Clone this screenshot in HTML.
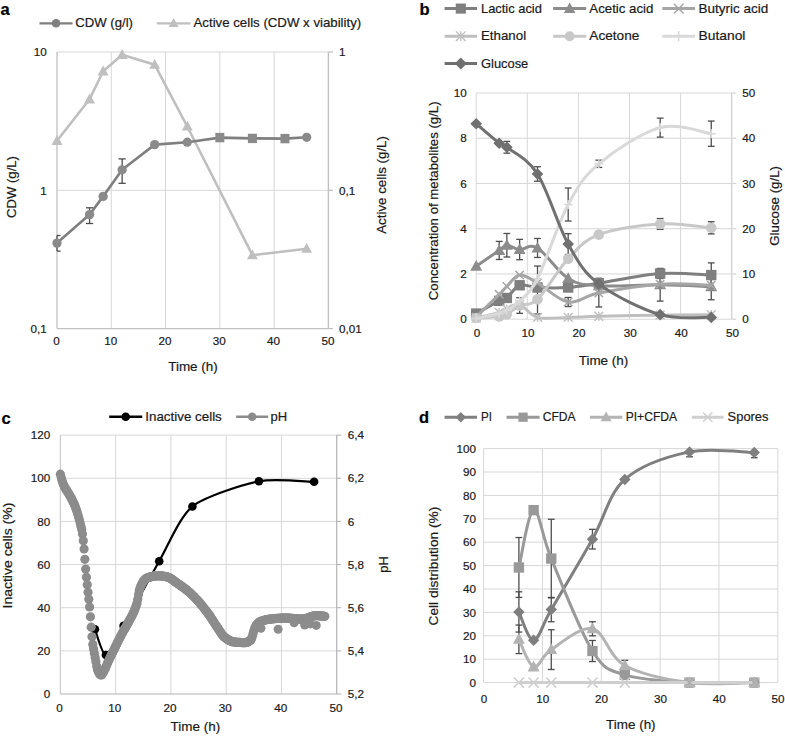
<!DOCTYPE html><html><head><meta charset="utf-8"><style>html,body{margin:0;padding:0;background:#fff;}svg{display:block;}</style></head><body>
<svg width="785" height="737" viewBox="0 0 785 737" font-family='"Liberation Sans", sans-serif'>
<rect width="785" height="737" fill="#fff"/>
<line x1="111.28" y1="52" x2="111.28" y2="328.6" stroke="#d7d7d7" stroke-width="1"/>
<line x1="165.56" y1="52" x2="165.56" y2="328.6" stroke="#d7d7d7" stroke-width="1"/>
<line x1="219.84" y1="52" x2="219.84" y2="328.6" stroke="#d7d7d7" stroke-width="1"/>
<line x1="274.12" y1="52" x2="274.12" y2="328.6" stroke="#d7d7d7" stroke-width="1"/>
<line x1="328.4" y1="52" x2="328.4" y2="328.6" stroke="#d7d7d7" stroke-width="1"/>
<line x1="57" y1="52" x2="328.4" y2="52" stroke="#d7d7d7" stroke-width="1"/>
<line x1="57" y1="190.3" x2="328.4" y2="190.3" stroke="#d7d7d7" stroke-width="1"/>
<line x1="57" y1="52" x2="57" y2="328.6" stroke="#c0c0c0" stroke-width="1.3"/>
<line x1="57" y1="328.6" x2="328.4" y2="328.6" stroke="#c0c0c0" stroke-width="1.3"/>
<line x1="328.4" y1="52" x2="328.4" y2="328.6" stroke="#c0c0c0" stroke-width="1.3"/>
<line x1="328.4" y1="52" x2="332.9" y2="52" stroke="#c0c0c0" stroke-width="1.3"/>
<line x1="328.4" y1="190.3" x2="332.9" y2="190.3" stroke="#c0c0c0" stroke-width="1.3"/>
<line x1="328.4" y1="328.6" x2="332.9" y2="328.6" stroke="#c0c0c0" stroke-width="1.3"/>
<text x="46.8" y="56.2" font-size="11.7" text-anchor="end" fill="#1a1a1a" stroke="#1a1a1a" stroke-width="0.2">10</text>
<text x="46.8" y="194.5" font-size="11.7" text-anchor="end" fill="#1a1a1a" stroke="#1a1a1a" stroke-width="0.2">1</text>
<text x="46.8" y="332.8" font-size="11.7" text-anchor="end" fill="#1a1a1a" stroke="#1a1a1a" stroke-width="0.2">0,1</text>
<text x="339" y="56.2" font-size="11.7" text-anchor="start" fill="#1a1a1a" stroke="#1a1a1a" stroke-width="0.2">1</text>
<text x="339" y="194.5" font-size="11.7" text-anchor="start" fill="#1a1a1a" stroke="#1a1a1a" stroke-width="0.2">0,1</text>
<text x="339" y="332.8" font-size="11.7" text-anchor="start" fill="#1a1a1a" stroke="#1a1a1a" stroke-width="0.2">0,01</text>
<text x="56.5" y="344.6" font-size="11.7" text-anchor="middle" fill="#1a1a1a" stroke="#1a1a1a" stroke-width="0.2">0</text>
<text x="110.78" y="344.6" font-size="11.7" text-anchor="middle" fill="#1a1a1a" stroke="#1a1a1a" stroke-width="0.2">10</text>
<text x="165.06" y="344.6" font-size="11.7" text-anchor="middle" fill="#1a1a1a" stroke="#1a1a1a" stroke-width="0.2">20</text>
<text x="219.34" y="344.6" font-size="11.7" text-anchor="middle" fill="#1a1a1a" stroke="#1a1a1a" stroke-width="0.2">30</text>
<text x="273.62" y="344.6" font-size="11.7" text-anchor="middle" fill="#1a1a1a" stroke="#1a1a1a" stroke-width="0.2">40</text>
<text x="327.9" y="344.6" font-size="11.7" text-anchor="middle" fill="#1a1a1a" stroke="#1a1a1a" stroke-width="0.2">50</text>
<text x="193" y="371" font-size="13" text-anchor="middle" fill="#1a1a1a" stroke="#1a1a1a" stroke-width="0.2" textLength="49.6" lengthAdjust="spacingAndGlyphs">Time (h)</text>
<text x="16.2" y="187" font-size="13" text-anchor="middle" fill="#1a1a1a" stroke="#1a1a1a" stroke-width="0.2" textLength="61.9" lengthAdjust="spacingAndGlyphs" transform="rotate(-90 16.2 187)">CDW (g/L)</text>
<text x="385.6" y="184.9" font-size="13" text-anchor="middle" fill="#1a1a1a" stroke="#1a1a1a" stroke-width="0.2" textLength="97.8" lengthAdjust="spacingAndGlyphs" transform="rotate(-90 385.6 184.9)">Active cells (g/L)</text>
<text x="0.5" y="15.2" font-size="16.5" text-anchor="start" font-weight="bold" fill="#000" stroke="#000" stroke-width="0.2">a</text>
<path d="M57,140.8 L89.57,99.3 L103.14,71.3 L122.14,54.8 L154.7,64.7 L187.27,126.5 L252.41,255.2 L306.69,248.7" fill="none" stroke="#bfbfbf" stroke-width="2.6" stroke-linejoin="round" stroke-linecap="round"/>
<path d="M57,135.03 L62.5,144.93 L51.5,144.93 Z" fill="#bfbfbf"/>
<path d="M89.57,93.52 L95.07,103.42 L84.07,103.42 Z" fill="#bfbfbf"/>
<path d="M103.14,65.52 L108.64,75.42 L97.64,75.42 Z" fill="#bfbfbf"/>
<path d="M122.14,49.02 L127.64,58.92 L116.64,58.92 Z" fill="#bfbfbf"/>
<path d="M154.7,58.93 L160.2,68.83 L149.2,68.83 Z" fill="#bfbfbf"/>
<path d="M187.27,120.72 L192.77,130.62 L181.77,130.62 Z" fill="#bfbfbf"/>
<path d="M252.41,249.42 L257.91,259.32 L246.91,259.32 Z" fill="#bfbfbf"/>
<path d="M306.69,242.92 L312.19,252.82 L301.19,252.82 Z" fill="#bfbfbf"/>
<line x1="57" y1="235.5" x2="57" y2="251.1" stroke="#4d4d4d" stroke-width="1.3"/>
<line x1="57" y1="235.5" x2="60.6" y2="235.5" stroke="#4d4d4d" stroke-width="1.3"/>
<line x1="57" y1="251.1" x2="60.6" y2="251.1" stroke="#4d4d4d" stroke-width="1.3"/>
<line x1="89.57" y1="207.8" x2="89.57" y2="223.5" stroke="#4d4d4d" stroke-width="1.3"/>
<line x1="85.97" y1="207.8" x2="93.17" y2="207.8" stroke="#4d4d4d" stroke-width="1.3"/>
<line x1="85.97" y1="223.5" x2="93.17" y2="223.5" stroke="#4d4d4d" stroke-width="1.3"/>
<line x1="122.14" y1="158.9" x2="122.14" y2="183.3" stroke="#4d4d4d" stroke-width="1.3"/>
<line x1="118.54" y1="158.9" x2="125.74" y2="158.9" stroke="#4d4d4d" stroke-width="1.3"/>
<line x1="118.54" y1="183.3" x2="125.74" y2="183.3" stroke="#4d4d4d" stroke-width="1.3"/>
<path d="M57,243.1 L89.57,214.6 L103.14,196.4 L122.14,169.8 L154.7,144.6 L187.27,142.2 L219.84,137.6 L252.41,138.4 L284.98,138.6 L306.69,137.3" fill="none" stroke="#7f7f7f" stroke-width="2.6" stroke-linejoin="round" stroke-linecap="round"/>
<circle cx="57" cy="243.1" r="4.64" fill="#8a8a8a"/>
<circle cx="89.57" cy="214.6" r="4.64" fill="#8a8a8a"/>
<circle cx="103.14" cy="196.4" r="4.64" fill="#8a8a8a"/>
<circle cx="122.14" cy="169.8" r="4.64" fill="#8a8a8a"/>
<circle cx="154.7" cy="144.6" r="4.64" fill="#8a8a8a"/>
<circle cx="187.27" cy="142.2" r="4.64" fill="#8a8a8a"/>
<rect x="215.34" y="132.9" width="9" height="9.4" fill="#8a8a8a"/>
<rect x="247.91" y="133.7" width="9" height="9.4" fill="#8a8a8a"/>
<rect x="280.48" y="133.9" width="9" height="9.4" fill="#8a8a8a"/>
<circle cx="306.69" cy="137.3" r="4.64" fill="#8a8a8a"/>
<line x1="39.5" y1="23.3" x2="72.6" y2="23.3" stroke="#7f7f7f" stroke-width="2.25"/>
<circle cx="56.05" cy="23.3" r="4.3" fill="#7f7f7f"/>
<text x="75.2" y="27.4" font-size="13" text-anchor="start" fill="#1a1a1a" stroke="#1a1a1a" stroke-width="0.2" textLength="57.8" lengthAdjust="spacingAndGlyphs">CDW (g/l)</text>
<line x1="156.8" y1="23.3" x2="190.5" y2="23.3" stroke="#bfbfbf" stroke-width="2.25"/>
<path d="M173.65,18.05 L178.65,27.05 L168.65,27.05 Z" fill="#bfbfbf"/>
<text x="193.5" y="27.4" font-size="13" text-anchor="start" fill="#1a1a1a" stroke="#1a1a1a" stroke-width="0.2" textLength="167.7" lengthAdjust="spacingAndGlyphs">Active cells (CDW x viability)</text>
<line x1="527.3" y1="93" x2="527.3" y2="319.2" stroke="#d7d7d7" stroke-width="1"/>
<line x1="578.4" y1="93" x2="578.4" y2="319.2" stroke="#d7d7d7" stroke-width="1"/>
<line x1="629.5" y1="93" x2="629.5" y2="319.2" stroke="#d7d7d7" stroke-width="1"/>
<line x1="680.6" y1="93" x2="680.6" y2="319.2" stroke="#d7d7d7" stroke-width="1"/>
<line x1="731.7" y1="93" x2="731.7" y2="319.2" stroke="#d7d7d7" stroke-width="1"/>
<line x1="476.2" y1="319.2" x2="731.7" y2="319.2" stroke="#d7d7d7" stroke-width="1"/>
<line x1="476.2" y1="273.96" x2="731.7" y2="273.96" stroke="#d7d7d7" stroke-width="1"/>
<line x1="476.2" y1="228.72" x2="731.7" y2="228.72" stroke="#d7d7d7" stroke-width="1"/>
<line x1="476.2" y1="183.48" x2="731.7" y2="183.48" stroke="#d7d7d7" stroke-width="1"/>
<line x1="476.2" y1="138.24" x2="731.7" y2="138.24" stroke="#d7d7d7" stroke-width="1"/>
<line x1="476.2" y1="93" x2="731.7" y2="93" stroke="#d7d7d7" stroke-width="1"/>
<line x1="476.2" y1="93" x2="476.2" y2="319.2" stroke="#d7d7d7" stroke-width="1"/>
<line x1="731.7" y1="93" x2="731.7" y2="319.2" stroke="#d4d4d4" stroke-width="1.2"/>
<line x1="731.7" y1="319.2" x2="736.2" y2="319.2" stroke="#d4d4d4" stroke-width="1.2"/>
<line x1="731.7" y1="273.96" x2="736.2" y2="273.96" stroke="#d4d4d4" stroke-width="1.2"/>
<line x1="731.7" y1="228.72" x2="736.2" y2="228.72" stroke="#d4d4d4" stroke-width="1.2"/>
<line x1="731.7" y1="183.48" x2="736.2" y2="183.48" stroke="#d4d4d4" stroke-width="1.2"/>
<line x1="731.7" y1="138.24" x2="736.2" y2="138.24" stroke="#d4d4d4" stroke-width="1.2"/>
<line x1="731.7" y1="93" x2="736.2" y2="93" stroke="#d4d4d4" stroke-width="1.2"/>
<text x="466.8" y="323.4" font-size="11.7" text-anchor="end" fill="#1a1a1a" stroke="#1a1a1a" stroke-width="0.2">0</text>
<text x="742.3" y="323.4" font-size="11.7" text-anchor="start" fill="#1a1a1a" stroke="#1a1a1a" stroke-width="0.2">0</text>
<text x="476.9" y="337" font-size="11.7" text-anchor="middle" fill="#1a1a1a" stroke="#1a1a1a" stroke-width="0.2">0</text>
<text x="466.8" y="278.16" font-size="11.7" text-anchor="end" fill="#1a1a1a" stroke="#1a1a1a" stroke-width="0.2">2</text>
<text x="742.3" y="278.16" font-size="11.7" text-anchor="start" fill="#1a1a1a" stroke="#1a1a1a" stroke-width="0.2">10</text>
<text x="528" y="337" font-size="11.7" text-anchor="middle" fill="#1a1a1a" stroke="#1a1a1a" stroke-width="0.2">10</text>
<text x="466.8" y="232.92" font-size="11.7" text-anchor="end" fill="#1a1a1a" stroke="#1a1a1a" stroke-width="0.2">4</text>
<text x="742.3" y="232.92" font-size="11.7" text-anchor="start" fill="#1a1a1a" stroke="#1a1a1a" stroke-width="0.2">20</text>
<text x="579.1" y="337" font-size="11.7" text-anchor="middle" fill="#1a1a1a" stroke="#1a1a1a" stroke-width="0.2">20</text>
<text x="466.8" y="187.68" font-size="11.7" text-anchor="end" fill="#1a1a1a" stroke="#1a1a1a" stroke-width="0.2">6</text>
<text x="742.3" y="187.68" font-size="11.7" text-anchor="start" fill="#1a1a1a" stroke="#1a1a1a" stroke-width="0.2">30</text>
<text x="630.2" y="337" font-size="11.7" text-anchor="middle" fill="#1a1a1a" stroke="#1a1a1a" stroke-width="0.2">30</text>
<text x="466.8" y="142.44" font-size="11.7" text-anchor="end" fill="#1a1a1a" stroke="#1a1a1a" stroke-width="0.2">8</text>
<text x="742.3" y="142.44" font-size="11.7" text-anchor="start" fill="#1a1a1a" stroke="#1a1a1a" stroke-width="0.2">40</text>
<text x="681.3" y="337" font-size="11.7" text-anchor="middle" fill="#1a1a1a" stroke="#1a1a1a" stroke-width="0.2">40</text>
<text x="466.8" y="97.2" font-size="11.7" text-anchor="end" fill="#1a1a1a" stroke="#1a1a1a" stroke-width="0.2">10</text>
<text x="742.3" y="97.2" font-size="11.7" text-anchor="start" fill="#1a1a1a" stroke="#1a1a1a" stroke-width="0.2">50</text>
<text x="732.4" y="337" font-size="11.7" text-anchor="middle" fill="#1a1a1a" stroke="#1a1a1a" stroke-width="0.2">50</text>
<text x="603.5" y="364.6" font-size="13" text-anchor="middle" fill="#1a1a1a" stroke="#1a1a1a" stroke-width="0.2" textLength="49.6" lengthAdjust="spacingAndGlyphs">Time (h)</text>
<text x="438.2" y="200.8" font-size="13" text-anchor="middle" fill="#1a1a1a" stroke="#1a1a1a" stroke-width="0.2" textLength="198.8" lengthAdjust="spacingAndGlyphs" transform="rotate(-90 438.2 200.8)">Concentration of metabolites (g/L)</text>
<text x="779" y="205.9" font-size="13" text-anchor="middle" fill="#1a1a1a" stroke="#1a1a1a" stroke-width="0.2" textLength="79.8" lengthAdjust="spacingAndGlyphs" transform="rotate(-90 779 205.9)">Glucose (g/L)</text>
<text x="419.5" y="15.3" font-size="16.5" text-anchor="start" font-weight="bold" fill="#000" stroke="#000" stroke-width="0.2">b</text>
<line x1="519.63" y1="281.88" x2="519.63" y2="288.66" stroke="#4d4d4d" stroke-width="1.3"/>
<line x1="516.24" y1="281.88" x2="523.03" y2="281.88" stroke="#4d4d4d" stroke-width="1.3"/>
<line x1="516.24" y1="288.66" x2="523.03" y2="288.66" stroke="#4d4d4d" stroke-width="1.3"/>
<line x1="598.84" y1="278.26" x2="598.84" y2="288.21" stroke="#4d4d4d" stroke-width="1.3"/>
<line x1="595.44" y1="278.26" x2="602.24" y2="278.26" stroke="#4d4d4d" stroke-width="1.3"/>
<line x1="595.44" y1="288.21" x2="602.24" y2="288.21" stroke="#4d4d4d" stroke-width="1.3"/>
<line x1="660.16" y1="268.53" x2="660.16" y2="278.48" stroke="#4d4d4d" stroke-width="1.3"/>
<line x1="656.76" y1="268.53" x2="663.56" y2="268.53" stroke="#4d4d4d" stroke-width="1.3"/>
<line x1="656.76" y1="278.48" x2="663.56" y2="278.48" stroke="#4d4d4d" stroke-width="1.3"/>
<line x1="711.26" y1="262.88" x2="711.26" y2="287.31" stroke="#4d4d4d" stroke-width="1.3"/>
<line x1="707.86" y1="262.88" x2="714.66" y2="262.88" stroke="#4d4d4d" stroke-width="1.3"/>
<line x1="707.86" y1="287.31" x2="714.66" y2="287.31" stroke="#4d4d4d" stroke-width="1.3"/>
<line x1="499.19" y1="241.39" x2="499.19" y2="259.48" stroke="#4d4d4d" stroke-width="1.3"/>
<line x1="495.8" y1="241.39" x2="502.59" y2="241.39" stroke="#4d4d4d" stroke-width="1.3"/>
<line x1="495.8" y1="259.48" x2="502.59" y2="259.48" stroke="#4d4d4d" stroke-width="1.3"/>
<line x1="506.86" y1="233.47" x2="506.86" y2="257" stroke="#4d4d4d" stroke-width="1.3"/>
<line x1="503.46" y1="233.47" x2="510.26" y2="233.47" stroke="#4d4d4d" stroke-width="1.3"/>
<line x1="503.46" y1="257" x2="510.26" y2="257" stroke="#4d4d4d" stroke-width="1.3"/>
<line x1="519.63" y1="239.35" x2="519.63" y2="259.71" stroke="#4d4d4d" stroke-width="1.3"/>
<line x1="516.24" y1="239.35" x2="523.03" y2="239.35" stroke="#4d4d4d" stroke-width="1.3"/>
<line x1="516.24" y1="259.71" x2="523.03" y2="259.71" stroke="#4d4d4d" stroke-width="1.3"/>
<line x1="537.52" y1="238.45" x2="537.52" y2="257.45" stroke="#4d4d4d" stroke-width="1.3"/>
<line x1="534.12" y1="238.45" x2="540.92" y2="238.45" stroke="#4d4d4d" stroke-width="1.3"/>
<line x1="534.12" y1="257.45" x2="540.92" y2="257.45" stroke="#4d4d4d" stroke-width="1.3"/>
<line x1="660.16" y1="268.53" x2="660.16" y2="301.1" stroke="#4d4d4d" stroke-width="1.3"/>
<line x1="656.76" y1="268.53" x2="663.56" y2="268.53" stroke="#4d4d4d" stroke-width="1.3"/>
<line x1="656.76" y1="301.1" x2="663.56" y2="301.1" stroke="#4d4d4d" stroke-width="1.3"/>
<line x1="711.26" y1="273.51" x2="711.26" y2="299.75" stroke="#4d4d4d" stroke-width="1.3"/>
<line x1="707.86" y1="273.51" x2="714.66" y2="273.51" stroke="#4d4d4d" stroke-width="1.3"/>
<line x1="707.86" y1="299.75" x2="714.66" y2="299.75" stroke="#4d4d4d" stroke-width="1.3"/>
<line x1="568.18" y1="297.48" x2="568.18" y2="306.53" stroke="#4d4d4d" stroke-width="1.3"/>
<line x1="564.78" y1="297.48" x2="571.58" y2="297.48" stroke="#4d4d4d" stroke-width="1.3"/>
<line x1="564.78" y1="306.53" x2="571.58" y2="306.53" stroke="#4d4d4d" stroke-width="1.3"/>
<line x1="598.84" y1="278.94" x2="598.84" y2="306.99" stroke="#4d4d4d" stroke-width="1.3"/>
<line x1="595.44" y1="278.94" x2="602.24" y2="278.94" stroke="#4d4d4d" stroke-width="1.3"/>
<line x1="595.44" y1="306.99" x2="602.24" y2="306.99" stroke="#4d4d4d" stroke-width="1.3"/>
<line x1="598.84" y1="232.34" x2="598.84" y2="236.86" stroke="#4d4d4d" stroke-width="1.3"/>
<line x1="595.44" y1="232.34" x2="602.24" y2="232.34" stroke="#4d4d4d" stroke-width="1.3"/>
<line x1="595.44" y1="236.86" x2="602.24" y2="236.86" stroke="#4d4d4d" stroke-width="1.3"/>
<line x1="660.16" y1="218.54" x2="660.16" y2="229.4" stroke="#4d4d4d" stroke-width="1.3"/>
<line x1="656.76" y1="218.54" x2="663.56" y2="218.54" stroke="#4d4d4d" stroke-width="1.3"/>
<line x1="656.76" y1="229.4" x2="663.56" y2="229.4" stroke="#4d4d4d" stroke-width="1.3"/>
<line x1="711.26" y1="221.71" x2="711.26" y2="233.92" stroke="#4d4d4d" stroke-width="1.3"/>
<line x1="707.86" y1="221.71" x2="714.66" y2="221.71" stroke="#4d4d4d" stroke-width="1.3"/>
<line x1="707.86" y1="233.92" x2="714.66" y2="233.92" stroke="#4d4d4d" stroke-width="1.3"/>
<line x1="568.18" y1="188" x2="568.18" y2="221.03" stroke="#4d4d4d" stroke-width="1.3"/>
<line x1="564.78" y1="188" x2="571.58" y2="188" stroke="#4d4d4d" stroke-width="1.3"/>
<line x1="564.78" y1="221.03" x2="571.58" y2="221.03" stroke="#4d4d4d" stroke-width="1.3"/>
<line x1="598.84" y1="160.18" x2="598.84" y2="167.42" stroke="#4d4d4d" stroke-width="1.3"/>
<line x1="595.44" y1="160.18" x2="602.24" y2="160.18" stroke="#4d4d4d" stroke-width="1.3"/>
<line x1="595.44" y1="167.42" x2="602.24" y2="167.42" stroke="#4d4d4d" stroke-width="1.3"/>
<line x1="660.16" y1="118.11" x2="660.16" y2="137.11" stroke="#4d4d4d" stroke-width="1.3"/>
<line x1="656.76" y1="118.11" x2="663.56" y2="118.11" stroke="#4d4d4d" stroke-width="1.3"/>
<line x1="656.76" y1="137.11" x2="663.56" y2="137.11" stroke="#4d4d4d" stroke-width="1.3"/>
<line x1="711.26" y1="121.05" x2="711.26" y2="146.38" stroke="#4d4d4d" stroke-width="1.3"/>
<line x1="707.86" y1="121.05" x2="714.66" y2="121.05" stroke="#4d4d4d" stroke-width="1.3"/>
<line x1="707.86" y1="146.38" x2="714.66" y2="146.38" stroke="#4d4d4d" stroke-width="1.3"/>
<line x1="506.86" y1="141.41" x2="506.86" y2="153.17" stroke="#4d4d4d" stroke-width="1.3"/>
<line x1="503.46" y1="141.41" x2="510.26" y2="141.41" stroke="#4d4d4d" stroke-width="1.3"/>
<line x1="503.46" y1="153.17" x2="510.26" y2="153.17" stroke="#4d4d4d" stroke-width="1.3"/>
<line x1="537.52" y1="166.74" x2="537.52" y2="181.22" stroke="#4d4d4d" stroke-width="1.3"/>
<line x1="534.12" y1="166.74" x2="540.92" y2="166.74" stroke="#4d4d4d" stroke-width="1.3"/>
<line x1="534.12" y1="181.22" x2="540.92" y2="181.22" stroke="#4d4d4d" stroke-width="1.3"/>
<line x1="568.18" y1="233.7" x2="568.18" y2="254.51" stroke="#4d4d4d" stroke-width="1.3"/>
<line x1="564.78" y1="233.7" x2="571.58" y2="233.7" stroke="#4d4d4d" stroke-width="1.3"/>
<line x1="564.78" y1="254.51" x2="571.58" y2="254.51" stroke="#4d4d4d" stroke-width="1.3"/>
<line x1="537.52" y1="266.04" x2="537.52" y2="314" stroke="#4d4d4d" stroke-width="1.3"/>
<line x1="534.12" y1="266.04" x2="540.92" y2="266.04" stroke="#4d4d4d" stroke-width="1.3"/>
<line x1="534.12" y1="314" x2="540.92" y2="314" stroke="#4d4d4d" stroke-width="1.3"/>
<line x1="519.63" y1="297.71" x2="519.63" y2="313.32" stroke="#4d4d4d" stroke-width="1.3"/>
<line x1="516.24" y1="297.71" x2="523.03" y2="297.71" stroke="#4d4d4d" stroke-width="1.3"/>
<line x1="516.24" y1="313.32" x2="523.03" y2="313.32" stroke="#4d4d4d" stroke-width="1.3"/>
<path d="M476.2,313.55 C480.03,311.43 494.08,303.48 499.19,300.88 C504.31,298.28 503.45,300.54 506.86,297.94 C510.27,295.34 514.52,287 519.63,285.27 C524.75,283.54 529.43,287.15 537.52,287.53 C545.61,287.91 557.96,288.25 568.18,287.53 C578.4,286.82 583.51,285.57 598.84,283.23 C614.17,280.9 641.42,274.86 660.16,273.51 C678.9,272.15 702.74,274.83 711.26,275.09" fill="none" stroke="#7f7f7f" stroke-width="3" stroke-linejoin="round" stroke-linecap="round"/>
<rect x="471.01" y="308.35" width="10.38" height="10.38" fill="#7f7f7f"/>
<rect x="494" y="295.69" width="10.38" height="10.38" fill="#7f7f7f"/>
<rect x="501.67" y="292.75" width="10.38" height="10.38" fill="#7f7f7f"/>
<rect x="514.44" y="280.08" width="10.38" height="10.38" fill="#7f7f7f"/>
<rect x="532.33" y="282.34" width="10.38" height="10.38" fill="#7f7f7f"/>
<rect x="562.99" y="282.34" width="10.38" height="10.38" fill="#7f7f7f"/>
<rect x="593.65" y="278.04" width="10.38" height="10.38" fill="#7f7f7f"/>
<rect x="654.97" y="268.32" width="10.38" height="10.38" fill="#7f7f7f"/>
<rect x="706.07" y="269.9" width="10.38" height="10.38" fill="#7f7f7f"/>
<path d="M476.2,266.27 C480.03,263.63 494.08,253.94 499.19,250.44 C504.31,246.93 503.45,245.38 506.86,245.23 C510.27,245.08 514.52,249.08 519.63,249.53 C524.75,249.98 529.43,243.12 537.52,247.95 C545.61,252.77 557.96,272.19 568.18,278.48 C578.4,284.78 583.51,284.67 598.84,285.72 C614.17,286.78 641.42,284.67 660.16,284.82 C678.9,284.97 702.74,286.33 711.26,286.63" fill="none" stroke="#8c8c8c" stroke-width="3" stroke-linejoin="round" stroke-linecap="round"/>
<path d="M476.2,259.97 L482.2,270.77 L470.2,270.77 Z" fill="#8c8c8c"/>
<path d="M499.19,244.14 L505.19,254.94 L493.19,254.94 Z" fill="#8c8c8c"/>
<path d="M506.86,238.93 L512.86,249.73 L500.86,249.73 Z" fill="#8c8c8c"/>
<path d="M519.63,243.23 L525.63,254.03 L513.63,254.03 Z" fill="#8c8c8c"/>
<path d="M537.52,241.65 L543.52,252.45 L531.52,252.45 Z" fill="#8c8c8c"/>
<path d="M568.18,272.18 L574.18,282.98 L562.18,282.98 Z" fill="#8c8c8c"/>
<path d="M598.84,279.42 L604.84,290.22 L592.84,290.22 Z" fill="#8c8c8c"/>
<path d="M660.16,278.52 L666.16,289.32 L654.16,289.32 Z" fill="#8c8c8c"/>
<path d="M711.26,280.33 L717.26,291.13 L705.26,291.13 Z" fill="#8c8c8c"/>
<path d="M476.2,316.94 C480.03,313.17 494.08,299.41 499.19,294.32 C504.31,289.23 503.45,289.61 506.86,286.4 C510.27,283.2 514.52,275.66 519.63,275.09 C524.75,274.53 529.43,278.52 537.52,283.01 C545.61,287.49 557.96,300.35 568.18,302.01 C578.4,303.67 583.51,295.94 598.84,292.96 C614.17,289.98 641.42,285.42 660.16,284.14 C678.9,282.86 702.74,285.08 711.26,285.27" fill="none" stroke="#a6a6a6" stroke-width="3" stroke-linejoin="round" stroke-linecap="round"/>
<path d="M472,312.74 L480.4,321.14 M472,321.14 L480.4,312.74" stroke="#a6a6a6" stroke-width="1.5"/>
<path d="M495,290.12 L503.39,298.52 M495,298.52 L503.39,290.12" stroke="#a6a6a6" stroke-width="1.5"/>
<path d="M502.66,282.2 L511.06,290.6 M502.66,290.6 L511.06,282.2" stroke="#a6a6a6" stroke-width="1.5"/>
<path d="M515.43,270.89 L523.84,279.29 M515.43,279.29 L523.84,270.89" stroke="#a6a6a6" stroke-width="1.5"/>
<path d="M533.32,278.81 L541.72,287.21 M533.32,287.21 L541.72,278.81" stroke="#a6a6a6" stroke-width="1.5"/>
<path d="M563.98,297.81 L572.38,306.21 M563.98,306.21 L572.38,297.81" stroke="#a6a6a6" stroke-width="1.5"/>
<path d="M594.64,288.76 L603.04,297.16 M594.64,297.16 L603.04,288.76" stroke="#a6a6a6" stroke-width="1.5"/>
<path d="M655.96,279.94 L664.36,288.34 M655.96,288.34 L664.36,279.94" stroke="#a6a6a6" stroke-width="1.5"/>
<path d="M707.06,281.07 L715.46,289.47 M707.06,289.47 L715.46,281.07" stroke="#a6a6a6" stroke-width="1.5"/>
<path d="M476.2,318.07 C480.03,317.13 494.08,313.92 499.19,312.41 C504.31,310.91 503.45,310.34 506.86,309.02 C510.27,307.7 514.52,303.1 519.63,304.5 C524.75,305.89 529.43,315.24 537.52,317.39 C545.61,319.54 557.96,317.58 568.18,317.39 C578.4,317.2 583.51,316.64 598.84,316.26 C614.17,315.88 641.42,315.39 660.16,315.13 C678.9,314.86 702.74,314.75 711.26,314.68" fill="none" stroke="#bfbfbf" stroke-width="3" stroke-linejoin="round" stroke-linecap="round"/>
<path d="M471.79,313.66 L480.61,322.48 M471.79,322.48 L480.61,313.66 M476.2,313.66 L476.2,322.48" stroke="#bfbfbf" stroke-width="1.4"/>
<path d="M494.78,308 L503.61,316.82 M494.78,316.82 L503.61,308 M499.19,308 L499.19,316.82" stroke="#bfbfbf" stroke-width="1.4"/>
<path d="M502.45,304.61 L511.27,313.43 M502.45,313.43 L511.27,304.61 M506.86,304.61 L506.86,313.43" stroke="#bfbfbf" stroke-width="1.4"/>
<path d="M515.23,300.09 L524.04,308.91 M515.23,308.91 L524.04,300.09 M519.63,300.09 L519.63,308.91" stroke="#bfbfbf" stroke-width="1.4"/>
<path d="M533.11,312.98 L541.93,321.8 M533.11,321.8 L541.93,312.98 M537.52,312.98 L537.52,321.8" stroke="#bfbfbf" stroke-width="1.4"/>
<path d="M563.77,312.98 L572.59,321.8 M563.77,321.8 L572.59,312.98 M568.18,312.98 L568.18,321.8" stroke="#bfbfbf" stroke-width="1.4"/>
<path d="M594.43,311.85 L603.25,320.67 M594.43,320.67 L603.25,311.85 M598.84,311.85 L598.84,320.67" stroke="#bfbfbf" stroke-width="1.4"/>
<path d="M655.75,310.72 L664.57,319.54 M655.75,319.54 L664.57,310.72 M660.16,310.72 L660.16,319.54" stroke="#bfbfbf" stroke-width="1.4"/>
<path d="M706.85,310.27 L715.67,319.09 M706.85,319.09 L715.67,310.27 M711.26,310.27 L711.26,319.09" stroke="#bfbfbf" stroke-width="1.4"/>
<path d="M476.2,318.07 C480.03,317.81 494.08,317.13 499.19,316.49 C504.31,315.84 503.45,316.03 506.86,314.22 C510.27,312.41 514.52,308.12 519.63,305.63 C524.75,303.14 529.43,307.1 537.52,299.29 C545.61,291.49 557.96,269.59 568.18,258.8 C578.4,248.02 583.51,240.41 598.84,234.6 C614.17,228.8 641.42,225.1 660.16,223.97 C678.9,222.84 702.74,227.17 711.26,227.82" fill="none" stroke="#c8c8c8" stroke-width="3" stroke-linejoin="round" stroke-linecap="round"/>
<circle cx="476.2" cy="318.07" r="5.29" fill="#c8c8c8"/>
<circle cx="499.19" cy="316.49" r="5.29" fill="#c8c8c8"/>
<circle cx="506.86" cy="314.22" r="5.29" fill="#c8c8c8"/>
<circle cx="519.63" cy="305.63" r="5.29" fill="#c8c8c8"/>
<circle cx="537.52" cy="299.29" r="5.29" fill="#c8c8c8"/>
<circle cx="568.18" cy="258.8" r="5.29" fill="#c8c8c8"/>
<circle cx="598.84" cy="234.6" r="5.29" fill="#c8c8c8"/>
<circle cx="660.16" cy="223.97" r="5.29" fill="#c8c8c8"/>
<circle cx="711.26" cy="227.82" r="5.29" fill="#c8c8c8"/>
<path d="M476.2,318.52 C480.03,317.69 494.08,314.94 499.19,313.55 C504.31,312.15 503.45,312.23 506.86,310.15 C510.27,308.08 514.52,306.38 519.63,301.1 C524.75,295.83 529.43,294.58 537.52,278.48 C545.61,262.39 557.96,223.63 568.18,204.52 C578.4,185.4 583.51,176.62 598.84,163.8 C614.17,150.98 641.42,132.62 660.16,127.61 C678.9,122.59 702.74,132.7 711.26,133.72" fill="none" stroke="#d9d9d9" stroke-width="3" stroke-linejoin="round" stroke-linecap="round"/>
<path d="M471.7,318.52 L480.7,318.52 M476.2,314.02 L476.2,323.02" stroke="#d9d9d9" stroke-width="1.5"/>
<path d="M494.69,313.55 L503.69,313.55 M499.19,309.05 L499.19,318.05" stroke="#d9d9d9" stroke-width="1.5"/>
<path d="M502.36,310.15 L511.36,310.15 M506.86,305.65 L506.86,314.65" stroke="#d9d9d9" stroke-width="1.5"/>
<path d="M515.13,301.1 L524.13,301.1 M519.63,296.6 L519.63,305.6" stroke="#d9d9d9" stroke-width="1.5"/>
<path d="M533.02,278.48 L542.02,278.48 M537.52,273.98 L537.52,282.98" stroke="#d9d9d9" stroke-width="1.5"/>
<path d="M563.68,204.52 L572.68,204.52 M568.18,200.02 L568.18,209.02" stroke="#d9d9d9" stroke-width="1.5"/>
<path d="M594.34,163.8 L603.34,163.8 M598.84,159.3 L598.84,168.3" stroke="#d9d9d9" stroke-width="1.5"/>
<path d="M655.66,127.61 L664.66,127.61 M660.16,123.11 L660.16,132.11" stroke="#d9d9d9" stroke-width="1.5"/>
<path d="M706.76,133.72 L715.76,133.72 M711.26,129.22 L711.26,138.22" stroke="#d9d9d9" stroke-width="1.5"/>
<path d="M476.2,123.76 C480.03,127.01 494.08,139.3 499.19,143.22 C504.31,147.14 500.47,142.16 506.86,147.29 C513.25,152.42 527.3,157.84 537.52,173.98 C547.74,190.12 557.96,225.78 568.18,244.1 C578.4,262.42 583.51,272.15 598.84,283.91 C614.17,295.68 641.42,309.1 660.16,314.68 C678.9,320.26 702.74,316.94 711.26,317.39" fill="none" stroke="#707070" stroke-width="3" stroke-linejoin="round" stroke-linecap="round"/>
<path d="M476.2,117.94 L482.02,123.76 L476.2,129.59 L470.38,123.76 Z" fill="#707070"/>
<path d="M499.19,137.39 L505.02,143.22 L499.19,149.04 L493.37,143.22 Z" fill="#707070"/>
<path d="M506.86,141.46 L512.68,147.29 L506.86,153.11 L501.04,147.29 Z" fill="#707070"/>
<path d="M537.52,168.16 L543.34,173.98 L537.52,179.8 L531.7,173.98 Z" fill="#707070"/>
<path d="M568.18,238.28 L574,244.1 L568.18,249.93 L562.36,244.1 Z" fill="#707070"/>
<path d="M598.84,278.09 L604.66,283.91 L598.84,289.74 L593.02,283.91 Z" fill="#707070"/>
<path d="M660.16,308.85 L665.98,314.68 L660.16,320.5 L654.34,314.68 Z" fill="#707070"/>
<path d="M711.26,311.57 L717.08,317.39 L711.26,323.21 L705.44,317.39 Z" fill="#707070"/>
<line x1="444.6" y1="8.6" x2="477" y2="8.6" stroke="#7f7f7f" stroke-width="3"/>
<rect x="455.74" y="3.54" width="10.12" height="10.12" fill="#7f7f7f"/>
<text x="481" y="12.7" font-size="13" text-anchor="start" fill="#1a1a1a" stroke="#1a1a1a" stroke-width="0.2" textLength="60.9" lengthAdjust="spacingAndGlyphs">Lactic acid</text>
<line x1="553.1" y1="8.6" x2="586.2" y2="8.6" stroke="#8c8c8c" stroke-width="3"/>
<path d="M569.65,2.56 L575.4,12.91 L563.9,12.91 Z" fill="#8c8c8c"/>
<text x="589.3" y="12.7" font-size="13" text-anchor="start" fill="#1a1a1a" stroke="#1a1a1a" stroke-width="0.2" textLength="64.1" lengthAdjust="spacingAndGlyphs">Acetic acid</text>
<line x1="662.3" y1="8.6" x2="695.1" y2="8.6" stroke="#a6a6a6" stroke-width="3"/>
<path d="M673.87,3.77 L683.53,13.43 M673.87,13.43 L683.53,3.77" stroke="#a6a6a6" stroke-width="1.5"/>
<text x="698.6" y="12.7" font-size="13" text-anchor="start" fill="#1a1a1a" stroke="#1a1a1a" stroke-width="0.2" textLength="69.6" lengthAdjust="spacingAndGlyphs">Butyric acid</text>
<line x1="444.6" y1="36.2" x2="477" y2="36.2" stroke="#bfbfbf" stroke-width="3"/>
<path d="M455.97,31.37 L465.63,41.03 M455.97,41.03 L465.63,31.37 M460.8,31.37 L460.8,41.03" stroke="#bfbfbf" stroke-width="1.4"/>
<text x="481" y="40.3" font-size="13" text-anchor="start" fill="#1a1a1a" stroke="#1a1a1a" stroke-width="0.2" textLength="45.1" lengthAdjust="spacingAndGlyphs">Ethanol</text>
<line x1="553.1" y1="36.2" x2="586.2" y2="36.2" stroke="#c8c8c8" stroke-width="3"/>
<circle cx="569.65" cy="36.2" r="4.94" fill="#c8c8c8"/>
<text x="589.3" y="40.3" font-size="13" text-anchor="start" fill="#1a1a1a" stroke="#1a1a1a" stroke-width="0.2" textLength="50" lengthAdjust="spacingAndGlyphs">Acetone</text>
<line x1="662.3" y1="36.2" x2="695.1" y2="36.2" stroke="#d9d9d9" stroke-width="3"/>
<path d="M673.53,36.2 L683.88,36.2 M678.7,31.03 L678.7,41.38" stroke="#d9d9d9" stroke-width="1.5"/>
<text x="698.6" y="40.3" font-size="13" text-anchor="start" fill="#1a1a1a" stroke="#1a1a1a" stroke-width="0.2" textLength="46.8" lengthAdjust="spacingAndGlyphs">Butanol</text>
<line x1="444.6" y1="63.4" x2="477" y2="63.4" stroke="#707070" stroke-width="3"/>
<path d="M460.8,57.42 L466.78,63.4 L460.8,69.38 L454.82,63.4 Z" fill="#707070"/>
<text x="481" y="67.5" font-size="13" text-anchor="start" fill="#1a1a1a" stroke="#1a1a1a" stroke-width="0.2" textLength="47.3" lengthAdjust="spacingAndGlyphs">Glucose</text>
<line x1="115.66" y1="435.1" x2="115.66" y2="694" stroke="#d7d7d7" stroke-width="1"/>
<line x1="170.92" y1="435.1" x2="170.92" y2="694" stroke="#d7d7d7" stroke-width="1"/>
<line x1="226.18" y1="435.1" x2="226.18" y2="694" stroke="#d7d7d7" stroke-width="1"/>
<line x1="281.44" y1="435.1" x2="281.44" y2="694" stroke="#d7d7d7" stroke-width="1"/>
<line x1="336.7" y1="435.1" x2="336.7" y2="694" stroke="#d7d7d7" stroke-width="1"/>
<line x1="60.4" y1="650.85" x2="336.7" y2="650.85" stroke="#d7d7d7" stroke-width="1"/>
<line x1="60.4" y1="607.7" x2="336.7" y2="607.7" stroke="#d7d7d7" stroke-width="1"/>
<line x1="60.4" y1="564.55" x2="336.7" y2="564.55" stroke="#d7d7d7" stroke-width="1"/>
<line x1="60.4" y1="521.4" x2="336.7" y2="521.4" stroke="#d7d7d7" stroke-width="1"/>
<line x1="60.4" y1="478.25" x2="336.7" y2="478.25" stroke="#d7d7d7" stroke-width="1"/>
<line x1="60.4" y1="435.1" x2="336.7" y2="435.1" stroke="#d7d7d7" stroke-width="1"/>
<line x1="60.4" y1="435.1" x2="60.4" y2="694" stroke="#cccccc" stroke-width="1.2"/>
<line x1="60.4" y1="694" x2="336.7" y2="694" stroke="#b4b4b4" stroke-width="1.1"/>
<line x1="336.7" y1="435.1" x2="336.7" y2="694" stroke="#b4b4b4" stroke-width="1.1"/>
<line x1="336.7" y1="694" x2="341.2" y2="694" stroke="#b4b4b4" stroke-width="1.1"/>
<line x1="336.7" y1="650.85" x2="341.2" y2="650.85" stroke="#b4b4b4" stroke-width="1.1"/>
<line x1="336.7" y1="607.7" x2="341.2" y2="607.7" stroke="#b4b4b4" stroke-width="1.1"/>
<line x1="336.7" y1="564.55" x2="341.2" y2="564.55" stroke="#b4b4b4" stroke-width="1.1"/>
<line x1="336.7" y1="521.4" x2="341.2" y2="521.4" stroke="#b4b4b4" stroke-width="1.1"/>
<line x1="336.7" y1="478.25" x2="341.2" y2="478.25" stroke="#b4b4b4" stroke-width="1.1"/>
<line x1="336.7" y1="435.1" x2="341.2" y2="435.1" stroke="#b4b4b4" stroke-width="1.1"/>
<text x="50.3" y="698.2" font-size="11.7" text-anchor="end" fill="#1a1a1a" stroke="#1a1a1a" stroke-width="0.2">0</text>
<text x="347.7" y="698.2" font-size="11.7" text-anchor="start" fill="#1a1a1a" stroke="#1a1a1a" stroke-width="0.2">5,2</text>
<text x="50.3" y="655.05" font-size="11.7" text-anchor="end" fill="#1a1a1a" stroke="#1a1a1a" stroke-width="0.2">20</text>
<text x="347.7" y="655.05" font-size="11.7" text-anchor="start" fill="#1a1a1a" stroke="#1a1a1a" stroke-width="0.2">5,4</text>
<text x="50.3" y="611.9" font-size="11.7" text-anchor="end" fill="#1a1a1a" stroke="#1a1a1a" stroke-width="0.2">40</text>
<text x="347.7" y="611.9" font-size="11.7" text-anchor="start" fill="#1a1a1a" stroke="#1a1a1a" stroke-width="0.2">5,6</text>
<text x="50.3" y="568.75" font-size="11.7" text-anchor="end" fill="#1a1a1a" stroke="#1a1a1a" stroke-width="0.2">60</text>
<text x="347.7" y="568.75" font-size="11.7" text-anchor="start" fill="#1a1a1a" stroke="#1a1a1a" stroke-width="0.2">5,8</text>
<text x="50.3" y="525.6" font-size="11.7" text-anchor="end" fill="#1a1a1a" stroke="#1a1a1a" stroke-width="0.2">80</text>
<text x="347.7" y="525.6" font-size="11.7" text-anchor="start" fill="#1a1a1a" stroke="#1a1a1a" stroke-width="0.2">6</text>
<text x="50.3" y="482.45" font-size="11.7" text-anchor="end" fill="#1a1a1a" stroke="#1a1a1a" stroke-width="0.2">100</text>
<text x="347.7" y="482.45" font-size="11.7" text-anchor="start" fill="#1a1a1a" stroke="#1a1a1a" stroke-width="0.2">6,2</text>
<text x="50.3" y="439.3" font-size="11.7" text-anchor="end" fill="#1a1a1a" stroke="#1a1a1a" stroke-width="0.2">120</text>
<text x="347.7" y="439.3" font-size="11.7" text-anchor="start" fill="#1a1a1a" stroke="#1a1a1a" stroke-width="0.2">6,4</text>
<text x="59.6" y="711.7" font-size="11.7" text-anchor="middle" fill="#1a1a1a" stroke="#1a1a1a" stroke-width="0.2">0</text>
<text x="114.86" y="711.7" font-size="11.7" text-anchor="middle" fill="#1a1a1a" stroke="#1a1a1a" stroke-width="0.2">10</text>
<text x="170.12" y="711.7" font-size="11.7" text-anchor="middle" fill="#1a1a1a" stroke="#1a1a1a" stroke-width="0.2">20</text>
<text x="225.38" y="711.7" font-size="11.7" text-anchor="middle" fill="#1a1a1a" stroke="#1a1a1a" stroke-width="0.2">30</text>
<text x="280.64" y="711.7" font-size="11.7" text-anchor="middle" fill="#1a1a1a" stroke="#1a1a1a" stroke-width="0.2">40</text>
<text x="335.9" y="711.7" font-size="11.7" text-anchor="middle" fill="#1a1a1a" stroke="#1a1a1a" stroke-width="0.2">50</text>
<text x="195.4" y="731" font-size="13" text-anchor="middle" fill="#1a1a1a" stroke="#1a1a1a" stroke-width="0.2" textLength="49.6" lengthAdjust="spacingAndGlyphs">Time (h)</text>
<text x="11.9" y="555.6" font-size="13" text-anchor="middle" fill="#1a1a1a" stroke="#1a1a1a" stroke-width="0.2" textLength="105.8" lengthAdjust="spacingAndGlyphs" transform="rotate(-90 11.9 555.6)">Inactive cells (%)</text>
<text x="388" y="564.5" font-size="13" text-anchor="middle" fill="#1a1a1a" stroke="#1a1a1a" stroke-width="0.2" transform="rotate(-90 388 564.5)">pH</text>
<text x="1.5" y="423.7" font-size="16.5" text-anchor="start" font-weight="bold" fill="#000" stroke="#000" stroke-width="0.2">c</text>
<path d="M94.9,629.3 C96.28,632.51 102.31,655.45 105.9,655 C109.49,654.55 116.94,637.43 123.6,625.7 C130.26,613.98 150.6,576.1 159.2,561.2 C167.8,546.3 179.94,516.49 192.4,506.5 C204.86,496.51 243.69,484.39 258.9,481.3 C274.11,478.21 307.2,481.74 314.1,481.8" fill="none" stroke="#000000" stroke-width="2.2" stroke-linejoin="round" stroke-linecap="round"/>
<circle cx="94.9" cy="629.3" r="4.3" fill="#000000"/>
<circle cx="105.9" cy="655" r="4.3" fill="#000000"/>
<circle cx="123.6" cy="625.7" r="4.3" fill="#000000"/>
<circle cx="159.2" cy="561.2" r="4.3" fill="#000000"/>
<circle cx="192.4" cy="506.5" r="4.3" fill="#000000"/>
<circle cx="258.9" cy="481.3" r="4.3" fill="#000000"/>
<circle cx="314.1" cy="481.8" r="4.3" fill="#000000"/>
<circle cx="60.4" cy="474.15" r="4.6" fill="#8c8c8c"/>
<circle cx="61.19" cy="477.53" r="4.6" fill="#8c8c8c"/>
<circle cx="61.98" cy="480.59" r="4.6" fill="#8c8c8c"/>
<circle cx="62.77" cy="482.83" r="4.6" fill="#8c8c8c"/>
<circle cx="63.56" cy="484.72" r="4.6" fill="#8c8c8c"/>
<circle cx="64.35" cy="486.38" r="4.6" fill="#8c8c8c"/>
<circle cx="65.14" cy="487.91" r="4.6" fill="#8c8c8c"/>
<circle cx="65.93" cy="489.26" r="4.6" fill="#8c8c8c"/>
<circle cx="66.72" cy="490.5" r="4.6" fill="#8c8c8c"/>
<circle cx="67.5" cy="491.68" r="4.6" fill="#8c8c8c"/>
<circle cx="68.29" cy="492.9" r="4.6" fill="#8c8c8c"/>
<circle cx="69.08" cy="494.23" r="4.6" fill="#8c8c8c"/>
<circle cx="69.87" cy="495.64" r="4.6" fill="#8c8c8c"/>
<circle cx="70.66" cy="497.07" r="4.6" fill="#8c8c8c"/>
<circle cx="71.45" cy="498.53" r="4.6" fill="#8c8c8c"/>
<circle cx="72.24" cy="500.04" r="4.6" fill="#8c8c8c"/>
<circle cx="73.03" cy="501.64" r="4.6" fill="#8c8c8c"/>
<circle cx="73.82" cy="503.32" r="4.6" fill="#8c8c8c"/>
<circle cx="74.61" cy="505.12" r="4.6" fill="#8c8c8c"/>
<circle cx="75.4" cy="507.06" r="4.6" fill="#8c8c8c"/>
<circle cx="76.19" cy="509.23" r="4.6" fill="#8c8c8c"/>
<circle cx="76.98" cy="511.62" r="4.6" fill="#8c8c8c"/>
<circle cx="77.77" cy="514.19" r="4.6" fill="#8c8c8c"/>
<circle cx="78.56" cy="516.89" r="4.6" fill="#8c8c8c"/>
<circle cx="79.35" cy="519.87" r="4.6" fill="#8c8c8c"/>
<circle cx="80.14" cy="523.07" r="4.6" fill="#8c8c8c"/>
<circle cx="80.93" cy="526.28" r="4.6" fill="#8c8c8c"/>
<circle cx="81.71" cy="529.54" r="4.6" fill="#8c8c8c"/>
<circle cx="82.5" cy="534.04" r="4.6" fill="#8c8c8c"/>
<circle cx="83.29" cy="540.8" r="4.6" fill="#8c8c8c"/>
<circle cx="84.08" cy="548.94" r="4.6" fill="#8c8c8c"/>
<circle cx="84.87" cy="559.35" r="4.6" fill="#8c8c8c"/>
<circle cx="85.66" cy="569.03" r="4.6" fill="#8c8c8c"/>
<circle cx="86.45" cy="577.18" r="4.6" fill="#8c8c8c"/>
<circle cx="87.24" cy="584.82" r="4.6" fill="#8c8c8c"/>
<circle cx="88.03" cy="592.25" r="4.6" fill="#8c8c8c"/>
<circle cx="88.82" cy="599.27" r="4.6" fill="#8c8c8c"/>
<circle cx="89.61" cy="607.01" r="4.6" fill="#8c8c8c"/>
<circle cx="90.4" cy="616.85" r="4.6" fill="#8c8c8c"/>
<circle cx="91.19" cy="627.2" r="4.6" fill="#8c8c8c"/>
<circle cx="91.98" cy="636.73" r="4.6" fill="#8c8c8c"/>
<circle cx="92.77" cy="644.45" r="4.6" fill="#8c8c8c"/>
<circle cx="93.56" cy="649.11" r="4.6" fill="#8c8c8c"/>
<circle cx="94.35" cy="653.33" r="4.6" fill="#8c8c8c"/>
<circle cx="95.13" cy="657.62" r="4.6" fill="#8c8c8c"/>
<circle cx="95.92" cy="661.85" r="4.6" fill="#8c8c8c"/>
<circle cx="96.71" cy="666.3" r="4.6" fill="#8c8c8c"/>
<circle cx="97.5" cy="669.73" r="4.6" fill="#8c8c8c"/>
<circle cx="98.29" cy="671.59" r="4.6" fill="#8c8c8c"/>
<circle cx="99.08" cy="673.13" r="4.6" fill="#8c8c8c"/>
<circle cx="99.87" cy="674.3" r="4.6" fill="#8c8c8c"/>
<circle cx="100.66" cy="674.94" r="4.6" fill="#8c8c8c"/>
<circle cx="101.45" cy="674.89" r="4.6" fill="#8c8c8c"/>
<circle cx="102.24" cy="674.1" r="4.6" fill="#8c8c8c"/>
<circle cx="103.03" cy="672.82" r="4.6" fill="#8c8c8c"/>
<circle cx="103.82" cy="671.32" r="4.6" fill="#8c8c8c"/>
<circle cx="104.61" cy="669.85" r="4.6" fill="#8c8c8c"/>
<circle cx="105.4" cy="668.23" r="4.6" fill="#8c8c8c"/>
<circle cx="106.19" cy="666.36" r="4.6" fill="#8c8c8c"/>
<circle cx="106.98" cy="664.39" r="4.6" fill="#8c8c8c"/>
<circle cx="107.77" cy="662.45" r="4.6" fill="#8c8c8c"/>
<circle cx="108.56" cy="660.68" r="4.6" fill="#8c8c8c"/>
<circle cx="109.34" cy="659.01" r="4.6" fill="#8c8c8c"/>
<circle cx="110.13" cy="657.38" r="4.6" fill="#8c8c8c"/>
<circle cx="110.92" cy="655.79" r="4.6" fill="#8c8c8c"/>
<circle cx="111.71" cy="654.22" r="4.6" fill="#8c8c8c"/>
<circle cx="112.5" cy="652.66" r="4.6" fill="#8c8c8c"/>
<circle cx="113.29" cy="651.1" r="4.6" fill="#8c8c8c"/>
<circle cx="114.08" cy="649.53" r="4.6" fill="#8c8c8c"/>
<circle cx="114.87" cy="647.93" r="4.6" fill="#8c8c8c"/>
<circle cx="115.66" cy="646.32" r="4.6" fill="#8c8c8c"/>
<circle cx="116.45" cy="644.71" r="4.6" fill="#8c8c8c"/>
<circle cx="117.24" cy="643.09" r="4.6" fill="#8c8c8c"/>
<circle cx="118.03" cy="641.47" r="4.6" fill="#8c8c8c"/>
<circle cx="118.82" cy="639.87" r="4.6" fill="#8c8c8c"/>
<circle cx="119.61" cy="638.28" r="4.6" fill="#8c8c8c"/>
<circle cx="120.4" cy="636.71" r="4.6" fill="#8c8c8c"/>
<circle cx="121.19" cy="635.18" r="4.6" fill="#8c8c8c"/>
<circle cx="121.98" cy="633.68" r="4.6" fill="#8c8c8c"/>
<circle cx="122.76" cy="632.24" r="4.6" fill="#8c8c8c"/>
<circle cx="123.55" cy="630.85" r="4.6" fill="#8c8c8c"/>
<circle cx="124.34" cy="629.49" r="4.6" fill="#8c8c8c"/>
<circle cx="125.13" cy="628.15" r="4.6" fill="#8c8c8c"/>
<circle cx="125.92" cy="626.81" r="4.6" fill="#8c8c8c"/>
<circle cx="126.71" cy="625.45" r="4.6" fill="#8c8c8c"/>
<circle cx="127.5" cy="624.05" r="4.6" fill="#8c8c8c"/>
<circle cx="128.29" cy="622.61" r="4.6" fill="#8c8c8c"/>
<circle cx="129.08" cy="621.09" r="4.6" fill="#8c8c8c"/>
<circle cx="129.87" cy="619.57" r="4.6" fill="#8c8c8c"/>
<circle cx="130.66" cy="618.1" r="4.6" fill="#8c8c8c"/>
<circle cx="131.45" cy="616.63" r="4.6" fill="#8c8c8c"/>
<circle cx="132.24" cy="615.14" r="4.6" fill="#8c8c8c"/>
<circle cx="133.03" cy="613.57" r="4.6" fill="#8c8c8c"/>
<circle cx="133.82" cy="611.9" r="4.6" fill="#8c8c8c"/>
<circle cx="134.61" cy="610.08" r="4.6" fill="#8c8c8c"/>
<circle cx="135.4" cy="608.08" r="4.6" fill="#8c8c8c"/>
<circle cx="136.19" cy="605.85" r="4.6" fill="#8c8c8c"/>
<circle cx="136.97" cy="603.29" r="4.6" fill="#8c8c8c"/>
<circle cx="137.76" cy="599.35" r="4.6" fill="#8c8c8c"/>
<circle cx="138.55" cy="594.62" r="4.6" fill="#8c8c8c"/>
<circle cx="139.34" cy="590.34" r="4.6" fill="#8c8c8c"/>
<circle cx="140.13" cy="587.69" r="4.6" fill="#8c8c8c"/>
<circle cx="140.92" cy="585.9" r="4.6" fill="#8c8c8c"/>
<circle cx="141.71" cy="584.28" r="4.6" fill="#8c8c8c"/>
<circle cx="142.5" cy="582.82" r="4.6" fill="#8c8c8c"/>
<circle cx="143.29" cy="581.54" r="4.6" fill="#8c8c8c"/>
<circle cx="144.08" cy="580.44" r="4.6" fill="#8c8c8c"/>
<circle cx="144.87" cy="579.53" r="4.6" fill="#8c8c8c"/>
<circle cx="145.66" cy="578.82" r="4.6" fill="#8c8c8c"/>
<circle cx="146.45" cy="578.31" r="4.6" fill="#8c8c8c"/>
<circle cx="147.24" cy="577.99" r="4.6" fill="#8c8c8c"/>
<circle cx="148.03" cy="577.7" r="4.6" fill="#8c8c8c"/>
<circle cx="148.82" cy="577.43" r="4.6" fill="#8c8c8c"/>
<circle cx="149.61" cy="577.18" r="4.6" fill="#8c8c8c"/>
<circle cx="150.39" cy="576.95" r="4.6" fill="#8c8c8c"/>
<circle cx="151.18" cy="576.73" r="4.6" fill="#8c8c8c"/>
<circle cx="151.97" cy="576.54" r="4.6" fill="#8c8c8c"/>
<circle cx="152.76" cy="576.37" r="4.6" fill="#8c8c8c"/>
<circle cx="153.55" cy="576.21" r="4.6" fill="#8c8c8c"/>
<circle cx="154.34" cy="576.08" r="4.6" fill="#8c8c8c"/>
<circle cx="155.13" cy="575.97" r="4.6" fill="#8c8c8c"/>
<circle cx="155.92" cy="575.89" r="4.6" fill="#8c8c8c"/>
<circle cx="156.71" cy="575.82" r="4.6" fill="#8c8c8c"/>
<circle cx="157.5" cy="575.78" r="4.6" fill="#8c8c8c"/>
<circle cx="158.29" cy="575.77" r="4.6" fill="#8c8c8c"/>
<circle cx="159.08" cy="575.78" r="4.6" fill="#8c8c8c"/>
<circle cx="159.87" cy="575.81" r="4.6" fill="#8c8c8c"/>
<circle cx="160.66" cy="575.87" r="4.6" fill="#8c8c8c"/>
<circle cx="161.45" cy="575.95" r="4.6" fill="#8c8c8c"/>
<circle cx="162.24" cy="576.05" r="4.6" fill="#8c8c8c"/>
<circle cx="163.03" cy="576.16" r="4.6" fill="#8c8c8c"/>
<circle cx="163.82" cy="576.28" r="4.6" fill="#8c8c8c"/>
<circle cx="164.6" cy="576.42" r="4.6" fill="#8c8c8c"/>
<circle cx="165.39" cy="576.57" r="4.6" fill="#8c8c8c"/>
<circle cx="166.18" cy="576.73" r="4.6" fill="#8c8c8c"/>
<circle cx="166.97" cy="576.89" r="4.6" fill="#8c8c8c"/>
<circle cx="167.76" cy="577.11" r="4.6" fill="#8c8c8c"/>
<circle cx="168.55" cy="577.41" r="4.6" fill="#8c8c8c"/>
<circle cx="169.34" cy="577.77" r="4.6" fill="#8c8c8c"/>
<circle cx="170.13" cy="578.2" r="4.6" fill="#8c8c8c"/>
<circle cx="170.92" cy="578.67" r="4.6" fill="#8c8c8c"/>
<circle cx="171.71" cy="579.18" r="4.6" fill="#8c8c8c"/>
<circle cx="172.5" cy="579.72" r="4.6" fill="#8c8c8c"/>
<circle cx="173.29" cy="580.29" r="4.6" fill="#8c8c8c"/>
<circle cx="174.08" cy="580.88" r="4.6" fill="#8c8c8c"/>
<circle cx="174.87" cy="581.47" r="4.6" fill="#8c8c8c"/>
<circle cx="175.66" cy="582.07" r="4.6" fill="#8c8c8c"/>
<circle cx="176.45" cy="582.65" r="4.6" fill="#8c8c8c"/>
<circle cx="177.24" cy="583.23" r="4.6" fill="#8c8c8c"/>
<circle cx="178.02" cy="583.77" r="4.6" fill="#8c8c8c"/>
<circle cx="178.81" cy="584.31" r="4.6" fill="#8c8c8c"/>
<circle cx="179.6" cy="584.85" r="4.6" fill="#8c8c8c"/>
<circle cx="180.39" cy="585.4" r="4.6" fill="#8c8c8c"/>
<circle cx="181.18" cy="585.95" r="4.6" fill="#8c8c8c"/>
<circle cx="181.97" cy="586.51" r="4.6" fill="#8c8c8c"/>
<circle cx="182.76" cy="587.08" r="4.6" fill="#8c8c8c"/>
<circle cx="183.55" cy="587.66" r="4.6" fill="#8c8c8c"/>
<circle cx="184.34" cy="588.24" r="4.6" fill="#8c8c8c"/>
<circle cx="185.13" cy="588.84" r="4.6" fill="#8c8c8c"/>
<circle cx="185.92" cy="589.46" r="4.6" fill="#8c8c8c"/>
<circle cx="186.71" cy="590.08" r="4.6" fill="#8c8c8c"/>
<circle cx="187.5" cy="590.72" r="4.6" fill="#8c8c8c"/>
<circle cx="188.29" cy="591.38" r="4.6" fill="#8c8c8c"/>
<circle cx="189.08" cy="592.05" r="4.6" fill="#8c8c8c"/>
<circle cx="189.87" cy="592.74" r="4.6" fill="#8c8c8c"/>
<circle cx="190.66" cy="593.46" r="4.6" fill="#8c8c8c"/>
<circle cx="191.45" cy="594.19" r="4.6" fill="#8c8c8c"/>
<circle cx="192.23" cy="594.95" r="4.6" fill="#8c8c8c"/>
<circle cx="193.02" cy="595.72" r="4.6" fill="#8c8c8c"/>
<circle cx="193.81" cy="596.52" r="4.6" fill="#8c8c8c"/>
<circle cx="194.6" cy="597.33" r="4.6" fill="#8c8c8c"/>
<circle cx="195.39" cy="598.15" r="4.6" fill="#8c8c8c"/>
<circle cx="196.18" cy="598.99" r="4.6" fill="#8c8c8c"/>
<circle cx="196.97" cy="599.85" r="4.6" fill="#8c8c8c"/>
<circle cx="197.76" cy="600.72" r="4.6" fill="#8c8c8c"/>
<circle cx="198.55" cy="601.59" r="4.6" fill="#8c8c8c"/>
<circle cx="199.34" cy="602.48" r="4.6" fill="#8c8c8c"/>
<circle cx="200.13" cy="603.39" r="4.6" fill="#8c8c8c"/>
<circle cx="200.92" cy="604.32" r="4.6" fill="#8c8c8c"/>
<circle cx="201.71" cy="605.26" r="4.6" fill="#8c8c8c"/>
<circle cx="202.5" cy="606.23" r="4.6" fill="#8c8c8c"/>
<circle cx="203.29" cy="607.21" r="4.6" fill="#8c8c8c"/>
<circle cx="204.08" cy="608.21" r="4.6" fill="#8c8c8c"/>
<circle cx="204.87" cy="609.22" r="4.6" fill="#8c8c8c"/>
<circle cx="205.65" cy="610.25" r="4.6" fill="#8c8c8c"/>
<circle cx="206.44" cy="611.29" r="4.6" fill="#8c8c8c"/>
<circle cx="207.23" cy="612.35" r="4.6" fill="#8c8c8c"/>
<circle cx="208.02" cy="613.42" r="4.6" fill="#8c8c8c"/>
<circle cx="208.81" cy="614.51" r="4.6" fill="#8c8c8c"/>
<circle cx="209.6" cy="615.62" r="4.6" fill="#8c8c8c"/>
<circle cx="210.39" cy="616.77" r="4.6" fill="#8c8c8c"/>
<circle cx="211.18" cy="617.96" r="4.6" fill="#8c8c8c"/>
<circle cx="211.97" cy="619.17" r="4.6" fill="#8c8c8c"/>
<circle cx="212.76" cy="620.4" r="4.6" fill="#8c8c8c"/>
<circle cx="213.55" cy="621.63" r="4.6" fill="#8c8c8c"/>
<circle cx="214.34" cy="622.87" r="4.6" fill="#8c8c8c"/>
<circle cx="215.13" cy="624.1" r="4.6" fill="#8c8c8c"/>
<circle cx="215.92" cy="625.31" r="4.6" fill="#8c8c8c"/>
<circle cx="216.71" cy="626.49" r="4.6" fill="#8c8c8c"/>
<circle cx="217.5" cy="627.64" r="4.6" fill="#8c8c8c"/>
<circle cx="218.29" cy="628.84" r="4.6" fill="#8c8c8c"/>
<circle cx="219.08" cy="630.08" r="4.6" fill="#8c8c8c"/>
<circle cx="219.86" cy="631.34" r="4.6" fill="#8c8c8c"/>
<circle cx="220.65" cy="632.58" r="4.6" fill="#8c8c8c"/>
<circle cx="221.44" cy="633.76" r="4.6" fill="#8c8c8c"/>
<circle cx="222.23" cy="634.85" r="4.6" fill="#8c8c8c"/>
<circle cx="223.02" cy="635.82" r="4.6" fill="#8c8c8c"/>
<circle cx="223.81" cy="636.63" r="4.6" fill="#8c8c8c"/>
<circle cx="224.6" cy="637.27" r="4.6" fill="#8c8c8c"/>
<circle cx="225.39" cy="637.86" r="4.6" fill="#8c8c8c"/>
<circle cx="226.18" cy="638.42" r="4.6" fill="#8c8c8c"/>
<circle cx="226.97" cy="638.97" r="4.6" fill="#8c8c8c"/>
<circle cx="227.76" cy="639.48" r="4.6" fill="#8c8c8c"/>
<circle cx="228.55" cy="639.96" r="4.6" fill="#8c8c8c"/>
<circle cx="229.34" cy="640.4" r="4.6" fill="#8c8c8c"/>
<circle cx="230.13" cy="640.8" r="4.6" fill="#8c8c8c"/>
<circle cx="230.92" cy="641.16" r="4.6" fill="#8c8c8c"/>
<circle cx="231.71" cy="641.46" r="4.6" fill="#8c8c8c"/>
<circle cx="232.5" cy="641.7" r="4.6" fill="#8c8c8c"/>
<circle cx="233.28" cy="641.89" r="4.6" fill="#8c8c8c"/>
<circle cx="234.07" cy="642" r="4.6" fill="#8c8c8c"/>
<circle cx="234.86" cy="642.08" r="4.6" fill="#8c8c8c"/>
<circle cx="235.65" cy="642.16" r="4.6" fill="#8c8c8c"/>
<circle cx="236.44" cy="642.23" r="4.6" fill="#8c8c8c"/>
<circle cx="237.23" cy="642.3" r="4.6" fill="#8c8c8c"/>
<circle cx="238.02" cy="642.36" r="4.6" fill="#8c8c8c"/>
<circle cx="238.81" cy="642.42" r="4.6" fill="#8c8c8c"/>
<circle cx="239.6" cy="642.47" r="4.6" fill="#8c8c8c"/>
<circle cx="240.39" cy="642.52" r="4.6" fill="#8c8c8c"/>
<circle cx="241.18" cy="642.55" r="4.6" fill="#8c8c8c"/>
<circle cx="241.97" cy="642.59" r="4.6" fill="#8c8c8c"/>
<circle cx="242.76" cy="642.61" r="4.6" fill="#8c8c8c"/>
<circle cx="243.55" cy="642.63" r="4.6" fill="#8c8c8c"/>
<circle cx="244.34" cy="642.65" r="4.6" fill="#8c8c8c"/>
<circle cx="245.13" cy="642.65" r="4.6" fill="#8c8c8c"/>
<circle cx="245.92" cy="642.61" r="4.6" fill="#8c8c8c"/>
<circle cx="246.71" cy="642.44" r="4.6" fill="#8c8c8c"/>
<circle cx="247.49" cy="642.16" r="4.6" fill="#8c8c8c"/>
<circle cx="248.28" cy="641.76" r="4.6" fill="#8c8c8c"/>
<circle cx="249.07" cy="641.27" r="4.6" fill="#8c8c8c"/>
<circle cx="249.86" cy="640.7" r="4.6" fill="#8c8c8c"/>
<circle cx="250.65" cy="640.05" r="4.6" fill="#8c8c8c"/>
<circle cx="251.44" cy="638.97" r="4.6" fill="#8c8c8c"/>
<circle cx="252.23" cy="636.74" r="4.6" fill="#8c8c8c"/>
<circle cx="253.02" cy="633.85" r="4.6" fill="#8c8c8c"/>
<circle cx="253.81" cy="630.87" r="4.6" fill="#8c8c8c"/>
<circle cx="254.6" cy="628.38" r="4.6" fill="#8c8c8c"/>
<circle cx="255.39" cy="626.83" r="4.6" fill="#8c8c8c"/>
<circle cx="256.18" cy="625.6" r="4.6" fill="#8c8c8c"/>
<circle cx="256.97" cy="624.5" r="4.6" fill="#8c8c8c"/>
<circle cx="257.76" cy="623.53" r="4.6" fill="#8c8c8c"/>
<circle cx="258.55" cy="622.73" r="4.6" fill="#8c8c8c"/>
<circle cx="259.34" cy="622.1" r="4.6" fill="#8c8c8c"/>
<circle cx="260.13" cy="621.67" r="4.6" fill="#8c8c8c"/>
<circle cx="260.91" cy="621.33" r="4.6" fill="#8c8c8c"/>
<circle cx="261.7" cy="621.02" r="4.6" fill="#8c8c8c"/>
<circle cx="262.49" cy="620.73" r="4.6" fill="#8c8c8c"/>
<circle cx="263.28" cy="620.48" r="4.6" fill="#8c8c8c"/>
<circle cx="264.07" cy="620.24" r="4.6" fill="#8c8c8c"/>
<circle cx="264.86" cy="620.04" r="4.6" fill="#8c8c8c"/>
<circle cx="265.65" cy="619.85" r="4.6" fill="#8c8c8c"/>
<circle cx="266.44" cy="619.68" r="4.6" fill="#8c8c8c"/>
<circle cx="267.23" cy="619.53" r="4.6" fill="#8c8c8c"/>
<circle cx="268.02" cy="619.4" r="4.6" fill="#8c8c8c"/>
<circle cx="268.81" cy="619.28" r="4.6" fill="#8c8c8c"/>
<circle cx="269.6" cy="619.18" r="4.6" fill="#8c8c8c"/>
<circle cx="270.39" cy="619.09" r="4.6" fill="#8c8c8c"/>
<circle cx="271.18" cy="619.01" r="4.6" fill="#8c8c8c"/>
<circle cx="271.97" cy="618.92" r="4.6" fill="#8c8c8c"/>
<circle cx="272.76" cy="618.84" r="4.6" fill="#8c8c8c"/>
<circle cx="273.55" cy="618.76" r="4.6" fill="#8c8c8c"/>
<circle cx="274.34" cy="618.68" r="4.6" fill="#8c8c8c"/>
<circle cx="275.12" cy="618.61" r="4.6" fill="#8c8c8c"/>
<circle cx="275.91" cy="618.54" r="4.6" fill="#8c8c8c"/>
<circle cx="276.7" cy="618.47" r="4.6" fill="#8c8c8c"/>
<circle cx="277.49" cy="618.41" r="4.6" fill="#8c8c8c"/>
<circle cx="278.28" cy="618.35" r="4.6" fill="#8c8c8c"/>
<circle cx="279.07" cy="618.3" r="4.6" fill="#8c8c8c"/>
<circle cx="279.86" cy="618.25" r="4.6" fill="#8c8c8c"/>
<circle cx="280.65" cy="618.21" r="4.6" fill="#8c8c8c"/>
<circle cx="281.44" cy="618.17" r="4.6" fill="#8c8c8c"/>
<circle cx="282.23" cy="618.13" r="4.6" fill="#8c8c8c"/>
<circle cx="283.02" cy="618.11" r="4.6" fill="#8c8c8c"/>
<circle cx="283.81" cy="618.08" r="4.6" fill="#8c8c8c"/>
<circle cx="284.6" cy="618.07" r="4.6" fill="#8c8c8c"/>
<circle cx="285.39" cy="618.06" r="4.6" fill="#8c8c8c"/>
<circle cx="286.18" cy="618.06" r="4.6" fill="#8c8c8c"/>
<circle cx="286.97" cy="618.07" r="4.6" fill="#8c8c8c"/>
<circle cx="287.76" cy="618.09" r="4.6" fill="#8c8c8c"/>
<circle cx="288.54" cy="618.12" r="4.6" fill="#8c8c8c"/>
<circle cx="289.33" cy="618.17" r="4.6" fill="#8c8c8c"/>
<circle cx="290.12" cy="618.23" r="4.6" fill="#8c8c8c"/>
<circle cx="290.91" cy="618.29" r="4.6" fill="#8c8c8c"/>
<circle cx="291.7" cy="618.36" r="4.6" fill="#8c8c8c"/>
<circle cx="292.49" cy="618.43" r="4.6" fill="#8c8c8c"/>
<circle cx="293.28" cy="618.51" r="4.6" fill="#8c8c8c"/>
<circle cx="294.07" cy="618.59" r="4.6" fill="#8c8c8c"/>
<circle cx="294.86" cy="618.67" r="4.6" fill="#8c8c8c"/>
<circle cx="295.65" cy="618.74" r="4.6" fill="#8c8c8c"/>
<circle cx="296.44" cy="618.82" r="4.6" fill="#8c8c8c"/>
<circle cx="297.23" cy="618.89" r="4.6" fill="#8c8c8c"/>
<circle cx="298.02" cy="618.95" r="4.6" fill="#8c8c8c"/>
<circle cx="298.81" cy="619.01" r="4.6" fill="#8c8c8c"/>
<circle cx="299.6" cy="619.06" r="4.6" fill="#8c8c8c"/>
<circle cx="300.39" cy="619.1" r="4.6" fill="#8c8c8c"/>
<circle cx="301.18" cy="619.12" r="4.6" fill="#8c8c8c"/>
<circle cx="301.97" cy="619.13" r="4.6" fill="#8c8c8c"/>
<circle cx="302.75" cy="619.12" r="4.6" fill="#8c8c8c"/>
<circle cx="303.54" cy="619.04" r="4.6" fill="#8c8c8c"/>
<circle cx="304.33" cy="618.91" r="4.6" fill="#8c8c8c"/>
<circle cx="305.12" cy="618.74" r="4.6" fill="#8c8c8c"/>
<circle cx="305.91" cy="618.52" r="4.6" fill="#8c8c8c"/>
<circle cx="306.7" cy="618.27" r="4.6" fill="#8c8c8c"/>
<circle cx="307.49" cy="617.99" r="4.6" fill="#8c8c8c"/>
<circle cx="308.28" cy="617.71" r="4.6" fill="#8c8c8c"/>
<circle cx="309.07" cy="617.41" r="4.6" fill="#8c8c8c"/>
<circle cx="309.86" cy="617.11" r="4.6" fill="#8c8c8c"/>
<circle cx="310.65" cy="616.82" r="4.6" fill="#8c8c8c"/>
<circle cx="311.44" cy="616.55" r="4.6" fill="#8c8c8c"/>
<circle cx="312.23" cy="616.3" r="4.6" fill="#8c8c8c"/>
<circle cx="313.02" cy="616.08" r="4.6" fill="#8c8c8c"/>
<circle cx="313.81" cy="615.9" r="4.6" fill="#8c8c8c"/>
<circle cx="314.6" cy="615.77" r="4.6" fill="#8c8c8c"/>
<circle cx="315.39" cy="615.7" r="4.6" fill="#8c8c8c"/>
<circle cx="316.17" cy="615.68" r="4.6" fill="#8c8c8c"/>
<circle cx="316.96" cy="615.7" r="4.6" fill="#8c8c8c"/>
<circle cx="317.75" cy="615.73" r="4.6" fill="#8c8c8c"/>
<circle cx="318.54" cy="615.77" r="4.6" fill="#8c8c8c"/>
<circle cx="319.33" cy="615.83" r="4.6" fill="#8c8c8c"/>
<circle cx="320.12" cy="615.89" r="4.6" fill="#8c8c8c"/>
<circle cx="320.91" cy="615.96" r="4.6" fill="#8c8c8c"/>
<circle cx="321.7" cy="616.03" r="4.6" fill="#8c8c8c"/>
<circle cx="322.49" cy="616.11" r="4.6" fill="#8c8c8c"/>
<circle cx="323.28" cy="616.18" r="4.6" fill="#8c8c8c"/>
<circle cx="324.07" cy="616.25" r="4.6" fill="#8c8c8c"/>
<circle cx="324.86" cy="616.31" r="4.6" fill="#8c8c8c"/>
<circle cx="260.99" cy="628.2" r="4.5" fill="#8c8c8c"/>
<circle cx="278.12" cy="629.28" r="4.5" fill="#8c8c8c"/>
<circle cx="294.15" cy="622.8" r="4.5" fill="#8c8c8c"/>
<circle cx="310.18" cy="623.88" r="4.5" fill="#8c8c8c"/>
<circle cx="316.25" cy="625.39" r="4.5" fill="#8c8c8c"/>
<circle cx="304.65" cy="624.96" r="4.5" fill="#8c8c8c"/>
<line x1="109.2" y1="416.8" x2="142.2" y2="416.8" stroke="#000000" stroke-width="2.4"/>
<circle cx="125.7" cy="416.8" r="4.3" fill="#000000"/>
<text x="145.3" y="420.9" font-size="13" text-anchor="start" fill="#1a1a1a" stroke="#1a1a1a" stroke-width="0.2" textLength="76.5" lengthAdjust="spacingAndGlyphs">Inactive cells</text>
<line x1="236.1" y1="416.8" x2="268.2" y2="416.8" stroke="#8c8c8c" stroke-width="2.4"/>
<circle cx="252.15" cy="416.8" r="4.3" fill="#8c8c8c"/>
<text x="270.6" y="420.9" font-size="13" text-anchor="start" fill="#1a1a1a" stroke="#1a1a1a" stroke-width="0.2">pH</text>
<line x1="483.6" y1="448.6" x2="483.6" y2="682.6" stroke="#d7d7d7" stroke-width="1"/>
<line x1="542.44" y1="448.6" x2="542.44" y2="682.6" stroke="#d7d7d7" stroke-width="1"/>
<line x1="601.28" y1="448.6" x2="601.28" y2="682.6" stroke="#d7d7d7" stroke-width="1"/>
<line x1="660.12" y1="448.6" x2="660.12" y2="682.6" stroke="#d7d7d7" stroke-width="1"/>
<line x1="718.96" y1="448.6" x2="718.96" y2="682.6" stroke="#d7d7d7" stroke-width="1"/>
<line x1="777.8" y1="448.6" x2="777.8" y2="682.6" stroke="#d7d7d7" stroke-width="1"/>
<line x1="483.6" y1="682.6" x2="777.8" y2="682.6" stroke="#d7d7d7" stroke-width="1"/>
<line x1="483.6" y1="659.2" x2="777.8" y2="659.2" stroke="#d7d7d7" stroke-width="1"/>
<line x1="483.6" y1="635.8" x2="777.8" y2="635.8" stroke="#d7d7d7" stroke-width="1"/>
<line x1="483.6" y1="612.4" x2="777.8" y2="612.4" stroke="#d7d7d7" stroke-width="1"/>
<line x1="483.6" y1="589" x2="777.8" y2="589" stroke="#d7d7d7" stroke-width="1"/>
<line x1="483.6" y1="565.6" x2="777.8" y2="565.6" stroke="#d7d7d7" stroke-width="1"/>
<line x1="483.6" y1="542.2" x2="777.8" y2="542.2" stroke="#d7d7d7" stroke-width="1"/>
<line x1="483.6" y1="518.8" x2="777.8" y2="518.8" stroke="#d7d7d7" stroke-width="1"/>
<line x1="483.6" y1="495.4" x2="777.8" y2="495.4" stroke="#d7d7d7" stroke-width="1"/>
<line x1="483.6" y1="472" x2="777.8" y2="472" stroke="#d7d7d7" stroke-width="1"/>
<line x1="483.6" y1="448.6" x2="777.8" y2="448.6" stroke="#d7d7d7" stroke-width="1"/>
<text x="475.9" y="686.8" font-size="11.7" text-anchor="end" fill="#1a1a1a" stroke="#1a1a1a" stroke-width="0.2">0</text>
<text x="475.9" y="663.4" font-size="11.7" text-anchor="end" fill="#1a1a1a" stroke="#1a1a1a" stroke-width="0.2">10</text>
<text x="475.9" y="640" font-size="11.7" text-anchor="end" fill="#1a1a1a" stroke="#1a1a1a" stroke-width="0.2">20</text>
<text x="475.9" y="616.6" font-size="11.7" text-anchor="end" fill="#1a1a1a" stroke="#1a1a1a" stroke-width="0.2">30</text>
<text x="475.9" y="593.2" font-size="11.7" text-anchor="end" fill="#1a1a1a" stroke="#1a1a1a" stroke-width="0.2">40</text>
<text x="475.9" y="569.8" font-size="11.7" text-anchor="end" fill="#1a1a1a" stroke="#1a1a1a" stroke-width="0.2">50</text>
<text x="475.9" y="546.4" font-size="11.7" text-anchor="end" fill="#1a1a1a" stroke="#1a1a1a" stroke-width="0.2">60</text>
<text x="475.9" y="523" font-size="11.7" text-anchor="end" fill="#1a1a1a" stroke="#1a1a1a" stroke-width="0.2">70</text>
<text x="475.9" y="499.6" font-size="11.7" text-anchor="end" fill="#1a1a1a" stroke="#1a1a1a" stroke-width="0.2">80</text>
<text x="475.9" y="476.2" font-size="11.7" text-anchor="end" fill="#1a1a1a" stroke="#1a1a1a" stroke-width="0.2">90</text>
<text x="475.9" y="452.8" font-size="11.7" text-anchor="end" fill="#1a1a1a" stroke="#1a1a1a" stroke-width="0.2">100</text>
<text x="483.9" y="703.2" font-size="11.7" text-anchor="middle" fill="#1a1a1a" stroke="#1a1a1a" stroke-width="0.2">0</text>
<text x="542.74" y="703.2" font-size="11.7" text-anchor="middle" fill="#1a1a1a" stroke="#1a1a1a" stroke-width="0.2">10</text>
<text x="601.58" y="703.2" font-size="11.7" text-anchor="middle" fill="#1a1a1a" stroke="#1a1a1a" stroke-width="0.2">20</text>
<text x="660.42" y="703.2" font-size="11.7" text-anchor="middle" fill="#1a1a1a" stroke="#1a1a1a" stroke-width="0.2">30</text>
<text x="719.26" y="703.2" font-size="11.7" text-anchor="middle" fill="#1a1a1a" stroke="#1a1a1a" stroke-width="0.2">40</text>
<text x="778.1" y="703.2" font-size="11.7" text-anchor="middle" fill="#1a1a1a" stroke="#1a1a1a" stroke-width="0.2">50</text>
<text x="630.8" y="729" font-size="13" text-anchor="middle" fill="#1a1a1a" stroke="#1a1a1a" stroke-width="0.2" textLength="49.6" lengthAdjust="spacingAndGlyphs">Time (h)</text>
<text x="438.5" y="566.1" font-size="13" text-anchor="middle" fill="#1a1a1a" stroke="#1a1a1a" stroke-width="0.2" textLength="118.6" lengthAdjust="spacingAndGlyphs" transform="rotate(-90 438.5 566.1)">Cell distribution (%)</text>
<text x="419" y="422.7" font-size="16.5" text-anchor="start" font-weight="bold" fill="#000" stroke="#000" stroke-width="0.2">d</text>
<line x1="518.9" y1="537.52" x2="518.9" y2="597.42" stroke="#4d4d4d" stroke-width="1.3"/>
<line x1="515.5" y1="537.52" x2="522.3" y2="537.52" stroke="#4d4d4d" stroke-width="1.3"/>
<line x1="515.5" y1="597.42" x2="522.3" y2="597.42" stroke="#4d4d4d" stroke-width="1.3"/>
<line x1="551.27" y1="519.27" x2="551.27" y2="597.89" stroke="#4d4d4d" stroke-width="1.3"/>
<line x1="547.87" y1="519.27" x2="554.67" y2="519.27" stroke="#4d4d4d" stroke-width="1.3"/>
<line x1="547.87" y1="597.89" x2="554.67" y2="597.89" stroke="#4d4d4d" stroke-width="1.3"/>
<line x1="592.45" y1="640.48" x2="592.45" y2="661.54" stroke="#4d4d4d" stroke-width="1.3"/>
<line x1="589.05" y1="640.48" x2="595.85" y2="640.48" stroke="#4d4d4d" stroke-width="1.3"/>
<line x1="589.05" y1="661.54" x2="595.85" y2="661.54" stroke="#4d4d4d" stroke-width="1.3"/>
<line x1="518.9" y1="591.81" x2="518.9" y2="632.06" stroke="#4d4d4d" stroke-width="1.3"/>
<line x1="515.5" y1="591.81" x2="522.3" y2="591.81" stroke="#4d4d4d" stroke-width="1.3"/>
<line x1="515.5" y1="632.06" x2="522.3" y2="632.06" stroke="#4d4d4d" stroke-width="1.3"/>
<line x1="551.27" y1="597.42" x2="551.27" y2="621.76" stroke="#4d4d4d" stroke-width="1.3"/>
<line x1="547.87" y1="597.42" x2="554.67" y2="597.42" stroke="#4d4d4d" stroke-width="1.3"/>
<line x1="547.87" y1="621.76" x2="554.67" y2="621.76" stroke="#4d4d4d" stroke-width="1.3"/>
<line x1="592.45" y1="529.33" x2="592.45" y2="548.99" stroke="#4d4d4d" stroke-width="1.3"/>
<line x1="589.05" y1="529.33" x2="595.85" y2="529.33" stroke="#4d4d4d" stroke-width="1.3"/>
<line x1="589.05" y1="548.99" x2="595.85" y2="548.99" stroke="#4d4d4d" stroke-width="1.3"/>
<line x1="689.54" y1="448.6" x2="689.54" y2="456.79" stroke="#4d4d4d" stroke-width="1.3"/>
<line x1="686.14" y1="456.79" x2="692.94" y2="456.79" stroke="#4d4d4d" stroke-width="1.3"/>
<line x1="754.26" y1="448.6" x2="754.26" y2="457.73" stroke="#4d4d4d" stroke-width="1.3"/>
<line x1="750.86" y1="457.73" x2="757.66" y2="457.73" stroke="#4d4d4d" stroke-width="1.3"/>
<line x1="518.9" y1="625.04" x2="518.9" y2="653.58" stroke="#4d4d4d" stroke-width="1.3"/>
<line x1="515.5" y1="625.04" x2="522.3" y2="625.04" stroke="#4d4d4d" stroke-width="1.3"/>
<line x1="515.5" y1="653.58" x2="522.3" y2="653.58" stroke="#4d4d4d" stroke-width="1.3"/>
<line x1="551.27" y1="629.72" x2="551.27" y2="669.5" stroke="#4d4d4d" stroke-width="1.3"/>
<line x1="547.87" y1="629.72" x2="554.67" y2="629.72" stroke="#4d4d4d" stroke-width="1.3"/>
<line x1="547.87" y1="669.5" x2="554.67" y2="669.5" stroke="#4d4d4d" stroke-width="1.3"/>
<line x1="592.45" y1="621.76" x2="592.45" y2="635.8" stroke="#4d4d4d" stroke-width="1.3"/>
<line x1="589.05" y1="621.76" x2="595.85" y2="621.76" stroke="#4d4d4d" stroke-width="1.3"/>
<line x1="589.05" y1="635.8" x2="595.85" y2="635.8" stroke="#4d4d4d" stroke-width="1.3"/>
<line x1="624.82" y1="660.37" x2="624.82" y2="670.67" stroke="#4d4d4d" stroke-width="1.3"/>
<line x1="621.42" y1="660.37" x2="628.22" y2="660.37" stroke="#4d4d4d" stroke-width="1.3"/>
<line x1="621.42" y1="670.67" x2="628.22" y2="670.67" stroke="#4d4d4d" stroke-width="1.3"/>
<path d="M518.9,611.93 C521.36,616.65 528.22,640.64 533.61,640.25 C539.01,639.86 541.46,626.44 551.27,609.59 C561.07,592.74 580.2,560.84 592.45,539.16 C604.71,517.47 608.63,494.04 624.82,479.49 C641,464.94 667.97,456.36 689.54,451.88 C711.11,447.39 743.48,452.46 754.26,452.58" fill="none" stroke="#7f7f7f" stroke-width="3" stroke-linejoin="round" stroke-linecap="round"/>
<path d="M518.9,606.21 L524.62,611.93 L518.9,617.65 L513.18,611.93 Z" fill="#7f7f7f"/>
<path d="M533.61,634.53 L539.33,640.25 L533.61,645.97 L527.89,640.25 Z" fill="#7f7f7f"/>
<path d="M551.27,603.87 L556.99,609.59 L551.27,615.31 L545.55,609.59 Z" fill="#7f7f7f"/>
<path d="M592.45,533.44 L598.17,539.16 L592.45,544.88 L586.73,539.16 Z" fill="#7f7f7f"/>
<path d="M624.82,473.77 L630.54,479.49 L624.82,485.21 L619.1,479.49 Z" fill="#7f7f7f"/>
<path d="M689.54,446.16 L695.26,451.88 L689.54,457.6 L683.82,451.88 Z" fill="#7f7f7f"/>
<path d="M754.26,446.86 L759.98,452.58 L754.26,458.3 L748.54,452.58 Z" fill="#7f7f7f"/>
<path d="M518.9,567.47 C521.36,557.92 528.22,511.62 533.61,510.14 C539.01,508.66 541.46,535.1 551.27,558.58 C561.07,582.06 580.2,631.63 592.45,651.01 C604.71,670.39 608.63,669.61 624.82,674.88 C641,680.14 667.97,681.31 689.54,682.6 C711.11,683.89 743.48,682.6 754.26,682.6" fill="none" stroke="#999999" stroke-width="3" stroke-linejoin="round" stroke-linecap="round"/>
<rect x="513.71" y="562.28" width="10.38" height="10.38" fill="#999999"/>
<rect x="528.42" y="504.95" width="10.38" height="10.38" fill="#999999"/>
<rect x="546.07" y="553.39" width="10.38" height="10.38" fill="#999999"/>
<rect x="587.26" y="645.82" width="10.38" height="10.38" fill="#999999"/>
<rect x="619.62" y="669.69" width="10.38" height="10.38" fill="#999999"/>
<rect x="684.35" y="677.41" width="10.38" height="10.38" fill="#999999"/>
<rect x="749.07" y="677.41" width="10.38" height="10.38" fill="#999999"/>
<path d="M518.9,639.31 C521.36,643.91 528.22,665.21 533.61,666.92 C539.01,668.64 541.46,655.96 551.27,649.61 C561.07,643.25 580.2,626.13 592.45,628.78 C604.71,631.43 608.63,656.55 624.82,665.52 C641,674.49 667.97,679.75 689.54,682.6 C711.11,685.45 743.48,682.6 754.26,682.6" fill="none" stroke="#b3b3b3" stroke-width="3" stroke-linejoin="round" stroke-linecap="round"/>
<path d="M518.9,633.01 L524.9,643.81 L512.9,643.81 Z" fill="#b3b3b3"/>
<path d="M533.61,660.62 L539.61,671.42 L527.61,671.42 Z" fill="#b3b3b3"/>
<path d="M551.27,643.31 L557.27,654.11 L545.27,654.11 Z" fill="#b3b3b3"/>
<path d="M592.45,622.48 L598.45,633.28 L586.45,633.28 Z" fill="#b3b3b3"/>
<path d="M624.82,659.22 L630.82,670.02 L618.82,670.02 Z" fill="#b3b3b3"/>
<path d="M689.54,676.3 L695.54,687.1 L683.54,687.1 Z" fill="#b3b3b3"/>
<path d="M754.26,676.3 L760.26,687.1 L748.26,687.1 Z" fill="#b3b3b3"/>
<path d="M518.9,682.6 C521.36,682.6 528.22,682.6 533.61,682.6 C539.01,682.6 541.46,682.6 551.27,682.6 C561.07,682.6 580.2,682.6 592.45,682.6 C604.71,682.6 608.63,682.6 624.82,682.6 C641,682.6 667.97,682.6 689.54,682.6 C711.11,682.6 743.48,682.6 754.26,682.6" fill="none" stroke="#cfcfcf" stroke-width="3" stroke-linejoin="round" stroke-linecap="round"/>
<path d="M513.86,677.56 L523.94,687.64 M513.86,687.64 L523.94,677.56" stroke="#cfcfcf" stroke-width="1.5"/>
<path d="M528.57,677.56 L538.65,687.64 M528.57,687.64 L538.65,677.56" stroke="#cfcfcf" stroke-width="1.5"/>
<path d="M546.23,677.56 L556.31,687.64 M546.23,687.64 L556.31,677.56" stroke="#cfcfcf" stroke-width="1.5"/>
<path d="M587.41,677.56 L597.49,687.64 M587.41,687.64 L597.49,677.56" stroke="#cfcfcf" stroke-width="1.5"/>
<path d="M619.78,677.56 L629.86,687.64 M619.78,687.64 L629.86,677.56" stroke="#cfcfcf" stroke-width="1.5"/>
<path d="M684.5,677.56 L694.58,687.64 M684.5,687.64 L694.58,677.56" stroke="#cfcfcf" stroke-width="1.5"/>
<path d="M749.22,677.56 L759.3,687.64 M749.22,687.64 L759.3,677.56" stroke="#cfcfcf" stroke-width="1.5"/>
<path d="M685.34,678.4 L693.74,686.8 M685.34,686.8 L693.74,678.4" stroke="#aaaaaa" stroke-width="1.5"/>
<path d="M750.06,678.4 L758.46,686.8 M750.06,686.8 L758.46,678.4" stroke="#aaaaaa" stroke-width="1.5"/>
<line x1="444.6" y1="417.2" x2="477" y2="417.2" stroke="#7f7f7f" stroke-width="3"/>
<path d="M460.8,412 L466,417.2 L460.8,422.4 L455.6,417.2 Z" fill="#7f7f7f"/>
<text x="481" y="421.3" font-size="13" text-anchor="start" fill="#1a1a1a" stroke="#1a1a1a" stroke-width="0.2" textLength="11" lengthAdjust="spacingAndGlyphs">PI</text>
<line x1="506.5" y1="417.2" x2="539.6" y2="417.2" stroke="#999999" stroke-width="3"/>
<rect x="518.43" y="412.58" width="9.24" height="9.24" fill="#999999"/>
<text x="542.7" y="421.3" font-size="13" text-anchor="start" fill="#1a1a1a" stroke="#1a1a1a" stroke-width="0.2" textLength="32.8" lengthAdjust="spacingAndGlyphs">CFDA</text>
<line x1="589.9" y1="417.2" x2="622.3" y2="417.2" stroke="#b3b3b3" stroke-width="3"/>
<path d="M606.1,411.43 L611.6,421.32 L600.6,421.32 Z" fill="#b3b3b3"/>
<text x="625.7" y="421.3" font-size="13" text-anchor="start" fill="#1a1a1a" stroke="#1a1a1a" stroke-width="0.2" textLength="51.4" lengthAdjust="spacingAndGlyphs">PI+CFDA</text>
<line x1="691.8" y1="417.2" x2="723.6" y2="417.2" stroke="#cfcfcf" stroke-width="3"/>
<path d="M703.08,412.58 L712.32,421.82 M703.08,421.82 L712.32,412.58" stroke="#cfcfcf" stroke-width="1.5"/>
<text x="727.6" y="421.3" font-size="13" text-anchor="start" fill="#1a1a1a" stroke="#1a1a1a" stroke-width="0.2" textLength="40.9" lengthAdjust="spacingAndGlyphs">Spores</text>
</svg></body></html>
